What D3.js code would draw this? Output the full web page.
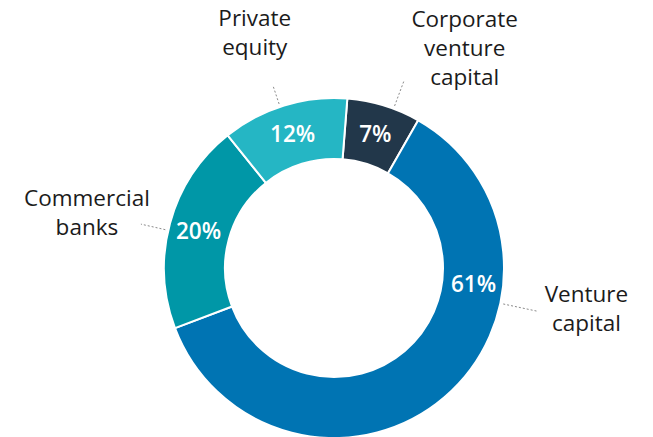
<!DOCTYPE html>
<html>
<head>
<meta charset="utf-8">
<script src="https://cdn.jsdelivr.net/npm/d3@7"></script>
<style>
  html, body { margin: 0; padding: 0; background: #fff; }
  svg { display: block; }
</style>
</head>
<body>
<svg id="chart" width="653" height="437"></svg>
<script>
// Funding sources, in the order they run clockwise round the ring
const categories = ["Corporate venture capital", "Venture capital", "Commercial banks", "Private equity"];
const shares = [7, 61, 20, 12];
const labelLines = [["Corporate", "venture", "capital"], ["Venture", "capital"], ["Commercial", "banks"], ["Private", "equity"]];
const colors = ["#22374a", "#0074b3", "#0097a7", "#25b6c4"];

const width = 653, height = 437;
const cx = 334, cy = 268;
const outerR = 170, innerR = 109;
const deg = Math.PI / 180;
const startDeg = 4.5;

// Callout placement: angle of the dotted leader line, its length, and where the text block sits
const callout = {
  "Corporate venture capital": { angle: 20.5, len: 26, dx: 61, dy: -55 },
  "Venture capital":           { angle: 102,  len: 35, dx: 49, dy: -9 },
  "Commercial banks":          { angle: 282.8, len: 25, dx: -54, dy: -18 },
  "Private equity":            { angle: 341.5, len: 20, dx: -18, dy: -59 }
};
// The big slice carries its value label near the right side of the ring
const valueAngleOverride = { "Venture capital": 96.5 };

const data = categories.map((c, i) => ({ name: c, value: shares[i], lines: labelLines[i], color: colors[i] }));

const pie = d3.pie()
  .value(d => d.value)
  .sort(null)
  .startAngle(startDeg * deg)
  .endAngle((startDeg + 360) * deg);

const arc = d3.arc().innerRadius(innerR).outerRadius(outerR);

const svg = d3.select("#chart");
const g = svg.append("g").attr("transform", `translate(${cx},${cy})`);

const arcs = pie(data);

g.selectAll("path.slice")
  .data(arcs)
  .join("path")
  .attr("class", "slice")
  .attr("d", arc)
  .attr("fill", d => d.data.color)
  .attr("stroke", "#fff")
  .attr("stroke-width", 2)
  .attr("stroke-linejoin", "round");

const polar = (aDeg, r) => [Math.sin(aDeg * deg) * r, -Math.cos(aDeg * deg) * r];

// Percentage labels inside the ring
const labelR = (innerR + outerR) / 2 + 1;
g.selectAll("text.pct")
  .data(arcs)
  .join("text")
  .attr("class", "pct")
  .each(function(d) {
    const mid = (d.startAngle + d.endAngle) / 2 / deg;
    const a = valueAngleOverride[d.data.name] !== undefined ? valueAngleOverride[d.data.name] : mid;
    const [x, y] = polar(a, labelR);
    d3.select(this).attr("x", x).attr("y", y);
  })
  .attr("text-anchor", "middle")
  .attr("dy", "0.36em")
  .attr("fill", "#fff")
  .attr("font-family", "'Open Sans', 'Noto Sans', sans-serif")
  .attr("font-weight", 600)
  .attr("font-size", 22.5)
  .text(d => d3.format(".0f")(d.data.value) + "%");

// Dotted leader lines and category names outside the ring
arcs.forEach(d => {
  const c = callout[d.data.name];
  const [x1, y1] = polar(c.angle, outerR + 3);
  const [x2, y2] = polar(c.angle, outerR + 3 + c.len);
  g.append("line")
    .attr("x1", x1).attr("y1", y1)
    .attr("x2", x2).attr("y2", y2)
    .attr("stroke", "#8a8a8a")
    .attr("stroke-width", 1)
    .attr("stroke-dasharray", "2,2");

  const t = g.append("text")
    .attr("text-anchor", "middle")
    .attr("fill", "#1b1b1b")
    .attr("font-family", "'Open Sans', 'Noto Sans', sans-serif")
    .attr("font-size", 22.5)
    .attr("x", x2 + c.dx)
    .attr("y", y2 + c.dy);
  d.data.lines.forEach((line, i) => {
    t.append("tspan")
      .attr("x", x2 + c.dx)
      .attr("dy", i === 0 ? 0 : 29)
      .text(line);
  });
});
</script>
</body>
</html>
